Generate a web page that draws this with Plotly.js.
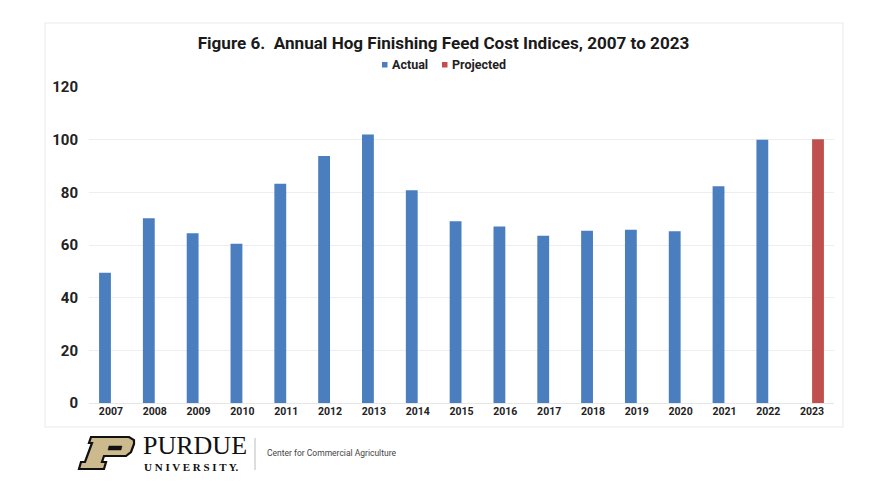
<!DOCTYPE html>
<html>
<head>
<meta charset="utf-8">
<script src="https://cdn.plot.ly/plotly-3.0.1.min.js"></script>
<style>html,body{margin:0;padding:0;background:#fff;}#chart{width:888px;height:500px;}</style>
</head>
<body>
<div id="chart"></div>
<script>
// ---- Data ----
const years = ["2007","2008","2009","2010","2011","2012","2013","2014","2015","2016","2017","2018","2019","2020","2021","2022","2023"];
const actual = [49.5, 70.2, 64.5, 60.5, 83.3, 93.8, 102.0, 80.8, 69.0, 67.0, 63.5, 65.4, 65.8, 65.2, 82.3, 100.0, null];
const projected = [null, null, null, null, null, null, null, null, null, null, null, null, null, null, null, null, 100.2];
const yTicks = [0, 20, 40, 60, 80, 100, 120];
const seriesNames = ["Actual", "Projected"];
const seriesColors = ["#4A7EBF", "#C0504D"];
const titleText = "Figure 6.\u00a0\u00a0Annual Hog Finishing Feed Cost Indices, 2007 to 2023";

// ---- Geometry helpers (plot area in px) ----
const W = 888, H = 500;
const L = 89, R = 834, T = 87, B = 403;
const px = x => (x - L) / (R - L);
const py = y => (B - y) / (B - T);

function pathFrom(points) {
  return "M " + points.map(p => px(p[0]).toFixed(5) + "," + py(p[1]).toFixed(5)).join(" L ") + " Z";
}

const pOuter = [[91,437],[129,437],[134,440],[134,444],[131,452],[126,456],[104,456],[102,462],[106,462],[104,469],[79,469],[81,462],[85,462],[92,443],[89,443]];
const pHole = [[109,446],[122,446],[121,450],[108,450]];

const data = [
  {type: "bar", name: seriesNames[0], x: years, y: actual, marker: {color: seriesColors[0]}, hoverinfo: "x+y"},
  {type: "bar", name: seriesNames[1], x: years, y: projected, marker: {color: seriesColors[1]}, hoverinfo: "x+y"}
];

// manual compact legend (square swatch + label)
const legendItems = [
  {sq: 382, tx: 390},
  {sq: 442, tx: 450}
];
const legendY = 64;
const legendShapes = legendItems.map((it, i) => ({
  type: "rect", xref: "paper", yref: "paper",
  x0: px(it.sq), x1: px(it.sq + 5.5), y0: py(legendY + 3.5), y1: py(legendY - 2),
  fillcolor: seriesColors[i], line: {width: 0}
}));
const legendAnns = legendItems.map((it, i) => ({
  text: seriesNames[i], xref: "paper", yref: "paper", x: px(it.tx), y: py(legendY), xanchor: "left", yanchor: "middle",
  showarrow: false, font: {family: "Roboto, Arial, sans-serif", size: 12.5, weight: "bold", color: "#222"}
}));

const layout = {
  width: W, height: H,
  margin: {l: L, r: W - R, t: T, b: H - B, pad: 0},
  paper_bgcolor: "#ffffff",
  plot_bgcolor: "#ffffff",
  font: {family: "Roboto, Arial, sans-serif", color: "#222"},
  title: {
    text: titleText,
    font: {family: "Roboto, Arial, sans-serif", size: 17.1, weight: "bold", color: "#1a1a1a"},
    x: px(443.5), xanchor: "center", xref: "paper",
    y: 1 - 43 / H, yanchor: "middle", yref: "container"
  },
  showlegend: false,
  barmode: "group",
  bargap: 0.46,
  bargroupgap: 0,
  xaxis: {
    type: "category",
    tickfont: {size: 10.5, weight: "bold", color: "#222"},
    showgrid: false, showline: false, ticks: "", zeroline: false,
    fixedrange: true
  },
  yaxis: {
    range: [0, 120],
    tickvals: yTicks,
    ticktext: yTicks.map(String),
    tickfont: {size: 15, weight: "bold", color: "#222"},
    showgrid: true, gridcolor: "#eeeeee", gridwidth: 1,
    zeroline: true, zerolinecolor: "#e6e6e6", zerolinewidth: 1,
    showline: false, ticks: "", ticklabelstandoff: 10,
    fixedrange: true
  },
  shapes: [
    {type: "rect", xref: "paper", yref: "paper", x0: px(45), x1: px(843), y0: py(427), y1: py(23),
     line: {color: "#e9e9e9", width: 1}, fillcolor: "rgba(0,0,0,0)", layer: "below"},
    {type: "path", xref: "paper", yref: "paper", path: pathFrom(pOuter),
     fillcolor: "#CDB98E", line: {color: "#111", width: 2.2}},
    {type: "path", xref: "paper", yref: "paper", path: pathFrom(pHole),
     fillcolor: "#111", line: {color: "#111", width: 0.5}},
    {type: "line", xref: "paper", yref: "paper", x0: px(255), x1: px(255), y0: py(438), y1: py(470),
     line: {color: "#bbbbbb", width: 1}}
  ].concat(legendShapes),
  annotations: [
    {text: "PURDUE", xref: "paper", yref: "paper", x: px(141), y: py(445), xanchor: "left", yanchor: "middle",
     showarrow: false, font: {family: "Liberation Serif, DejaVu Serif, serif", size: 26, color: "#111"}},
    {text: "U N I V E R S I T Y.", xref: "paper", yref: "paper", x: px(142), y: py(467), xanchor: "left", yanchor: "middle",
     showarrow: false, font: {family: "Liberation Serif, DejaVu Serif, serif", size: 11, weight: "bold", color: "#111"}},
    {text: "Center for Commercial Agriculture", xref: "paper", yref: "paper", x: px(265), y: py(453), xanchor: "left", yanchor: "middle",
     showarrow: false, font: {family: "Roboto, Arial, sans-serif", size: 8.5, color: "#444"}}
  ].concat(legendAnns)
};

Plotly.newPlot("chart", data, layout, {displayModeBar: false, staticPlot: true});
</script>
</body>
</html>
